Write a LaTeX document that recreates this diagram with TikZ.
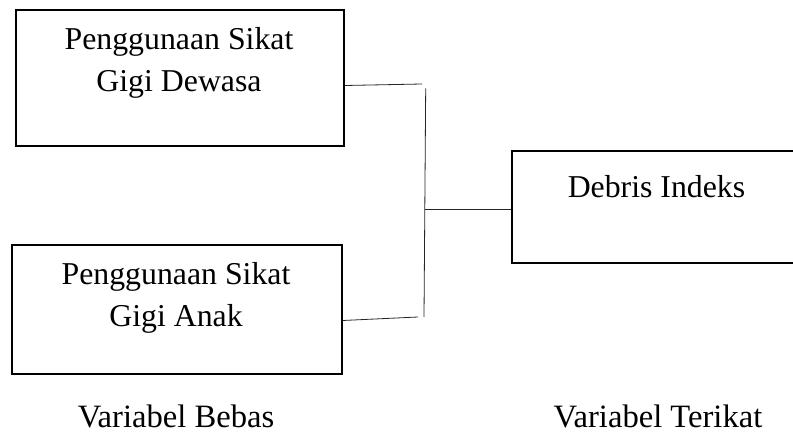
\documentclass[tikz,border=0pt]{standalone}
\usepackage{fontspec}
\setmainfont{Liberation Serif}
\begin{document}
\begin{tikzpicture}[x=1pt,y=-1pt,
  box/.style={draw=black,line width=1.4pt,fill=none,inner sep=0pt},
  lbl/.style={anchor=base,inner sep=0pt,font=\fontsize{31.8}{42}\selectfont},
  blbl/.style={anchor=base,inner sep=0pt,font=\fontsize{32.6}{42}\selectfont},
  conn/.style={draw=black!85,line width=0.8pt}]
\clip (0,0) rectangle (793,438);
\fill[white] (0,0) rectangle (793,438);
% boxes
\node[box,minimum width=328pt,minimum height=136pt] (b1) at (180,78) {};
\node[box,minimum width=330pt,minimum height=129pt] (b2) at (177,309.5) {};
\node[box,minimum width=289pt,minimum height=112pt] (b3) at (656.5,207) {};
% texts
\node[lbl] (t1a) at (179,50) {Penggunaan Sikat};
\node[lbl] (t1b) at (179,92) {Gigi Dewasa};
\node[lbl] (t2a) at (176,285) {Penggunaan Sikat};
\node[lbl] (t2b) at (176,327) {Gigi Anak};
\node[lbl] (t3) at (656.5,198) {Debris Indeks};
\node[blbl] (l1) at (176,428) {Variabel Bebas};
\node[blbl] (l2) at (658,428) {Variabel Terikat};
% connectors
\coordinate (c1) at (422,84);
\coordinate (c2) at (418,317);
\coordinate (vt) at (425.7,88.5);
\coordinate (vb) at (424,317);
\coordinate (vm) at (425,209);
\draw[conn] (b1.north east |- 0,85.5) -- (c1);
\draw[conn] (b2.north east |- 0,320.5) -- (c2);
\draw[conn] (vt) -- (vb);
\draw[conn] (vm) -- (vm -| b3.west);
\end{tikzpicture}
\end{document}
